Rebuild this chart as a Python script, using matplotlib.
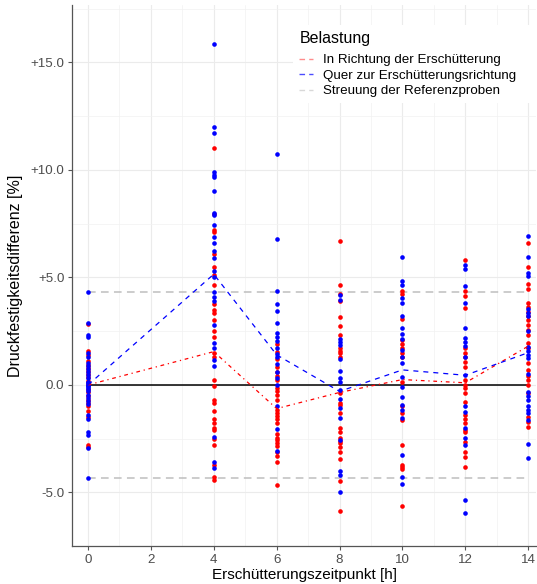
import numpy as np
import matplotlib.pyplot as plt
import matplotlib.patches as patches
from matplotlib.lines import Line2D
from matplotlib.ticker import MultipleLocator

plt.rcParams["font.family"] = ["Liberation Sans", "DejaVu Sans"]

# ── Data: single specimen differences per vibration time [%] ──
HOURS = [0, 4, 6, 8, 10, 12, 14]

RED_H0 = [2.85, 1.6, 1.4, 1.1, 0.95, 0.8, 0.65, 0.5, 0.35, 0.2, 0.05, -0.2, -0.35, -0.5, -0.7,
          -0.85, -1.0, -1.2, -1.5, -2.8, -2.9]
BLUE_H0 = [4.34, 2.9, 2.3, 2.25, 1.5, 1.3, 1.0, 0.9, 0.75, 0.6, 0.45, 0.3, 0.15, 0.1, 0.0, -0.05,
           -0.1, -0.2, -0.3, -0.45, -0.6, -0.75, -0.9, -1.4, -1.6, -2.2, -2.35, -2.95, -4.31]

RED_H4 = [11.04, 7.95, 7.2, 7.1, 6.1, 5.5, 5.1, 4.65, 3.75, 3.5, 3.35, 3.0, 2.5, 2.25, 1.5, 1.3,
          0.23, -0.05, -0.7, -0.85, -1.2, -1.6, -1.78, -2.0, -2.1, -2.5, -2.8, -3.7, -4.3, -4.4]
BLUE_H4 = [15.86, 11.99, 11.7, 9.9, 9.75, 9.65, 9.04, 8.0, 7.9, 7.44, 6.9, 6.6, 6.25, 5.9, 5.3,
           5.0, 4.3, 4.1, 3.9, 2.8, 1.95, 1.7, 1.15, 0.9, -2.4, -3.6, -3.85]

RED_H6 = [1.9, 1.55, 1.2, 0.85, 0.6, 0.4, 0.23, -0.15, -0.3, -0.45, -0.7, -1.15, -1.3, -1.45,
          -1.6, -1.77, -2.3, -2.45, -2.55, -2.7, -2.85, -3.1, -3.3, -3.6, -4.65]
BLUE_H6 = [10.76, 6.8, 4.39, 3.75, 3.44, 2.9, 2.4, 2.25, 2.05, 1.7, 1.45, 1.3, 0.98, 0.6, 0.3,
           0.0, -1.0, -2.05, -3.05]

RED_H8 = [6.7, 4.64, 4.23, 3.92, 3.15, 2.74, 2.34, 1.72, 1.6, 1.5, 1.3, -0.39, -0.85, -0.93,
          -1.3, -2.0, -2.17, -2.47, -2.6, -2.7, -2.9, -3.1, -3.43, -4.47, -5.86]
BLUE_H8 = [4.2, 3.95, 2.14, 2.0, 1.86, 1.2, 0.67, 0.33, 0.16, -0.23, -0.65, -1.07, -1.53, -2.56,
           -4.0, -4.19, -4.99]

RED_H10 = [4.39, 4.23, 3.05, 2.1, 1.9, 1.7, 1.5, 1.3, 0.16, -0.96, -1.3, -1.63, -2.79, -3.7,
           -3.8, -3.9, -5.61]
BLUE_H10 = [5.97, 4.84, 4.65, 4.06, 3.83, 3.22, 2.64, 2.37, 2.14, 1.63, 1.3, 1.0, 0.38, -0.1,
            -0.54, -0.93, -1.16, -1.56, -3.26, -4.26, -4.6]

RED_H12 = [5.81, 4.37, 4.14, 3.57, 1.72, 1.5, 1.28, 1.05, 0.85, 0.23, 0.0, -0.15, -0.36, -0.78,
           -1.4, -1.6, -1.78, -2.1, -2.17, -2.64, -3.1, -3.33, -3.83]
BLUE_H12 = [5.58, 5.4, 4.6, 3.8, 2.67, 2.2, 2.0, 1.8, 1.32, 0.47, -1.0, -1.24, -2.02, -2.48,
            -2.79, -5.35, -5.94]

RED_H14 = [6.59, 5.5, 4.7, 4.47, 3.81, 3.64, 3.4, 3.2, 3.0, 2.8, 2.56, 2.33, 1.95, 1.7, 1.0,
           0.7, 0.4, 0.23, 0.0, -0.39, -1.47, -1.7, -1.94]
BLUE_H14 = [6.94, 5.94, 5.22, 5.07, 3.53, 3.35, 3.2, 2.51, 1.78, 1.6, 1.4, 1.24, 0.51, -0.31,
            -0.5, -0.7, -1.0, -1.15, -1.3, -1.63, -2.74, -3.41]

# group means
MEAN_RED = [0.0, 1.55, -1.1, -0.35, 0.25, 0.1, 1.8]
MEAN_BLUE = [0.0, 5.15, 1.4, -0.3, 0.7, 0.45, 1.5]

# scatter band of the reference specimens
REF_BAND = 4.33

RED_ALL = [RED_H0, RED_H4, RED_H6, RED_H8, RED_H10, RED_H12, RED_H14]
BLUE_ALL = [BLUE_H0, BLUE_H4, BLUE_H6, BLUE_H8, BLUE_H10, BLUE_H12, BLUE_H14]

LEGEND_LABELS = ["In Richtung der Erschütterung", "Quer zur Erschütterungsrichtung",
                 "Streuung der Referenzproben"]

RED = "#FF0000"
BLUE = "#0000FF"
GREY = "#BEBEBE"

fig = plt.figure(figsize=(5.37, 5.84), dpi=100)
ax = fig.add_axes([72 / 537, 38 / 584, 464 / 537, 541 / 584])
ax.set_facecolor("white")

# ── reference lines ──
ax.plot([HOURS[0], HOURS[-1]], [REF_BAND, REF_BAND], color=GREY, lw=1.1,
        dashes=(5, 3.5), zorder=2)
ax.plot([HOURS[0], HOURS[-1]], [-REF_BAND, -REF_BAND], color=GREY, lw=1.1,
        dashes=(5, 3.5), zorder=2)
ax.plot([HOURS[0], HOURS[-1]], [0, 0], color="black", lw=1.1, zorder=2)

# ── single values ──
for h, reds, blues in zip(HOURS, RED_ALL, BLUE_ALL):
    ax.scatter([h] * len(reds), reds, s=11, color=RED, linewidths=0, zorder=3)
    ax.scatter([h] * len(blues), blues, s=11, color=BLUE, linewidths=0, zorder=3)

# ── means ──
ax.plot(HOURS, MEAN_RED, color=RED, lw=0.9, dashes=(3, 3, 1, 3), zorder=4)
ax.plot(HOURS, MEAN_BLUE, color=BLUE, lw=0.9, dashes=(4, 4), zorder=4)

# ── axes styling ──
ax.set_xlim(-0.51, 14.25)
ax.set_ylim(-7.49, 17.67)
ax.set_xticks([0, 2, 4, 6, 8, 10, 12, 14])
ax.xaxis.set_minor_locator(MultipleLocator(1))
ax.set_yticks([-5, 0, 5, 10, 15])
ax.set_yticklabels(["-5.0", "0.0", "+5.0", "+10.0", "+15.0"])
ax.yaxis.set_minor_locator(MultipleLocator(2.5))
ax.grid(True, which="major", color="#EBEBEB", lw=0.8, zorder=0)
ax.grid(True, which="minor", color="#F2F2F2", lw=0.5, zorder=0)
ax.set_axisbelow(True)
for side in ["top", "right"]:
    ax.spines[side].set_visible(False)
for side in ["left", "bottom"]:
    ax.spines[side].set_color("#555555")
    ax.spines[side].set_linewidth(0.9)
ax.tick_params(which="major", length=3, width=0.8, color="#555555",
               labelcolor="#4D4D4D", labelsize=9.6, pad=2.5)
ax.tick_params(which="minor", length=0)
ax.set_xlabel("Erschütterungszeitpunkt [h]", fontsize=11)
ax.set_ylabel("Druckfestigkeitsdifferenz [%]", fontsize=11.5)
ax.xaxis.set_label_coords(0.5, -0.041)
ax.yaxis.set_label_coords(-0.106, 0.5)

# ── legend ──
ax.add_patch(patches.Rectangle((293 - 72) / 464 * np.array([1, 0]) + [0, (546 - 103) / 541],
                               (536 - 293) / 464, 78 / 541, transform=ax.transAxes,
                               facecolor="white", edgecolor="none", zorder=5))
ax.text((300 - 72) / 464, (546 - 38) / 541, "Belastung", transform=ax.transAxes,
        fontsize=11.5, ha="left", va="center", zorder=6)
handles = [
    Line2D([0], [0], color=RED, alpha=0.45, lw=1.0, dashes=(4, 3)),
    Line2D([0], [0], color=BLUE, alpha=0.7, lw=1.0, dashes=(4, 3)),
    Line2D([0], [0], color=GREY, alpha=0.6, lw=1.0, dashes=(4, 3)),
]
leg = ax.legend(handles, LEGEND_LABELS, loc="upper left",
                bbox_to_anchor=((299 - 72) / 464, (546 - 54) / 541), fontsize=9.6,
                frameon=False, handlelength=1.05, handletextpad=0.75,
                labelspacing=0.24, borderpad=0, borderaxespad=0)
leg.set_zorder(6)

fig.savefig("out.png", dpi=100)
